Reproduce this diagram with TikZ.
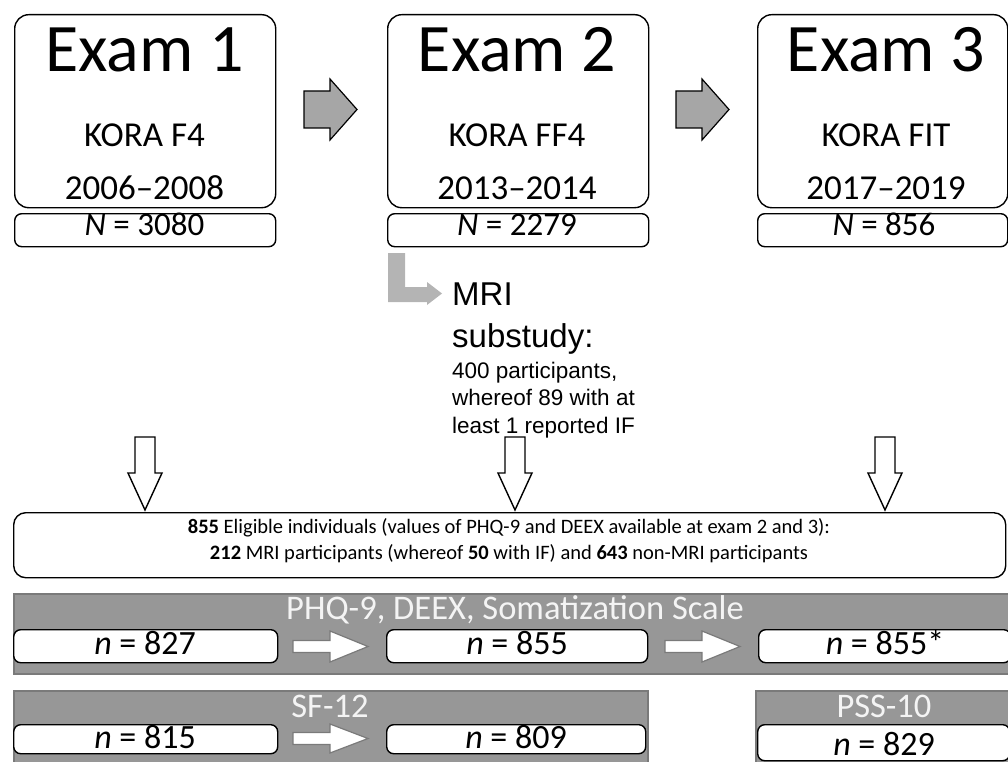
\documentclass[tikz,border=0pt]{standalone}
\usepackage{fontspec}
\setmainfont{Carlito}
\newfontfamily\arialf{Liberation Sans}
\definecolor{bandfill}{HTML}{979797}
\definecolor{bandedge}{HTML}{7A7A7A}
\definecolor{arrowgray}{HTML}{A6A6A6}
\definecolor{lgray}{HTML}{B4B4B4}
\definecolor{titlewhite}{HTML}{F4F4F4}
\begin{document}
\begin{tikzpicture}[x=1pt,y=-1pt,
  exambox/.style={draw=black, line width=1.4pt, rounded corners=14pt, inner sep=0pt, fill=white, anchor=north west},
  nbox/.style={draw=black, line width=1.4pt, rounded corners=7pt, inner sep=0pt, fill=white, anchor=north west},
  bandbox/.style={draw=bandedge, fill=bandfill, line width=1.5pt, inner sep=0pt, anchor=north west},
  bigtxt/.style={anchor=base, inner sep=0pt, font=\fontsize{68}{80}\selectfont},
  midtxt/.style={anchor=base, inner sep=0pt, font=\fontsize{35}{42}\selectfont},
  ntxt/.style={anchor=base, inner sep=0pt, font=\fontsize{33}{40}\selectfont},
  vtxt/.style={anchor=base, inner sep=0pt, font=\fontsize{34}{40}\selectfont},
  eltxt/.style={anchor=base, inner sep=0pt, font=\fontsize{20.5}{24}\selectfont},
  titletxt/.style={anchor=base, inner sep=0pt, text=titlewhite, font=\fontsize{34.5}{40}\selectfont},
  mribig/.style={anchor=base west, inner sep=0pt, font=\arialf\fontsize{33}{40}\selectfont},
  mrismall/.style={anchor=base west, inner sep=0pt, font=\arialf\fontsize{22.5}{27}\selectfont},
  grayarrow/.style={draw=black, fill=arrowgray, line width=1.2pt, line join=miter},
  downarrow/.style={draw=black, fill=white, line width=1.4pt, line join=miter},
  whitearrow/.style={draw=bandedge, fill=white, line width=1.2pt, line join=miter},
  larrow/.style={fill=lgray, draw=none}
]
\useasboundingbox (0,0) rectangle (1008,762);
\clip (0,0) rectangle (1008,762);

% exam boxes
\node[exambox, minimum width=261pt, minimum height=193pt] (e1) at (14,14) {};
\node[exambox, minimum width=261pt, minimum height=193pt] (e2) at (387,14) {};
\node[exambox, minimum width=250pt, minimum height=193pt] (e3) at (757,14) {};
\node[nbox, minimum width=261pt, minimum height=33pt] (n1) at (14,213) {};
\node[nbox, minimum width=261pt, minimum height=33pt] (n2) at (387,213) {};
\node[nbox, minimum width=250pt, minimum height=33pt] (n3) at (757,213) {};

\node[bigtxt] (e1t) at (144.5,72) {Exam 1};
\node[midtxt] (e1k) at (144.5,147) {KORA F4};
\node[midtxt] (e1y) at (144.5,199) {2006--2008};
\node[ntxt] (n1t) at (144.5,235) {\textit{N} = 3080};

\node[bigtxt] (e2t) at (517,72) {Exam 2};
\node[midtxt] (e2k) at (517,147) {KORA FF4};
\node[midtxt] (e2y) at (517,199) {2013--2014};
\node[ntxt] (n2t) at (517,235) {\textit{N} = 2279};

\node[bigtxt] (e3t) at (886,72) {Exam 3};
\node[midtxt] (e3k) at (886,147) {KORA FIT};
\node[midtxt] (e3y) at (886,199) {2017--2019};
\node[ntxt] (n3t) at (884,235) {\textit{N} = 856};

% gray block arrows between exams
\draw[grayarrow, shift={(304,109.5)}] (0,-18.5) -- (26,-18.5) -- (26,-30.5) -- (53,0) -- (26,30.5) -- (26,18.5) -- (0,18.5) -- cycle;
\draw[grayarrow, shift={(676,109.5)}] (0,-18.5) -- (26,-18.5) -- (26,-30.5) -- (53,0) -- (26,30.5) -- (26,18.5) -- (0,18.5) -- cycle;

% MRI L-arrow
\fill[larrow] (388,253) -- (405,253) -- (405,287) -- (427,287) -- (427,282) -- (442,293.5) -- (427,305) -- (427,302) -- (388,302) -- cycle;
\node[mribig] (mri1) at (452,305) {MRI};
\node[mribig] (mri2) at (452,347) {substudy:};
\node[mrismall] (mri3) at (452,378) {400 participants,};
\node[mrismall] (mri4) at (452,405.5) {whereof 89 with at};
\node[mrismall] (mri5) at (452,433) {least 1 reported IF};

% down arrows
\foreach \cx in {145,515,885}{
  \draw[downarrow, shift={(\cx,437)}] (-10,0) -- (10,0) -- (10,36) -- (17,36) -- (0,73) -- (-17,36) -- (-10,36) -- cycle;
}

% eligible box
\node[nbox, rounded corners=12pt, minimum width=992pt, minimum height=65pt] (el) at (13,512) {};
\node[eltxt] (el1) at (509,533) {\textbf{855} Eligible individuals (values of PHQ-9 and DEEX available at exam 2 and 3):};
\node[eltxt] (el2) at (509,559) {\textbf{212} MRI participants (whereof \textbf{50} with IF) and \textbf{643} non-MRI participants};

% band 1
\node[bandbox, minimum width=997pt, minimum height=80pt] (b1) at (13,593) {};
\node[titletxt] (b1t) at (515,619) {PHQ-9, DEEX, Somatization Scale};
\node[nbox, minimum width=264pt, minimum height=33pt] (p1) at (13,629) {};
\node[nbox, minimum width=261pt, minimum height=33pt] (p2) at (386,629) {};
\node[nbox, minimum width=252pt, minimum height=33pt] (p3) at (758,629) {};
\node[vtxt] (p1t) at (145,654) {\textit{n} = 827};
\node[vtxt] (p2t) at (517,654) {\textit{n} = 855};
\node[vtxt] (p3t) at (885,654) {\textit{n} = 855*};
\draw[whitearrow, shift={(293,646.5)}] (0,-6) -- (37,-6) -- (37,-15.5) -- (75,0) -- (37,15.5) -- (37,6) -- (0,6) -- cycle;
\draw[whitearrow, shift={(665,646.5)}] (0,-6) -- (37,-6) -- (37,-15.5) -- (75,0) -- (37,15.5) -- (37,6) -- (0,6) -- cycle;

% band 2
\node[bandbox, minimum width=634pt, minimum height=90pt] (b2) at (13,690) {};
\node[titletxt] (b2t) at (330,717) {SF-12};
\node[nbox, minimum width=264pt, minimum height=29pt] (q1) at (13,724) {};
\node[nbox, minimum width=259pt, minimum height=29pt] (q2) at (386,724) {};
\node[vtxt] (q1t) at (145,748) {\textit{n} = 815};
\node[vtxt] (q2t) at (516,748) {\textit{n} = 809};
\draw[whitearrow, shift={(293,738.5)}] (0,-6) -- (37,-6) -- (37,-14.5) -- (75,0) -- (37,14.5) -- (37,6) -- (0,6) -- cycle;

% band 3
\node[bandbox, minimum width=255pt, minimum height=90pt] (b3) at (755,690) {};
\node[titletxt] (b3t) at (884,717) {PSS-10};
\node[nbox, minimum width=252pt, minimum height=36pt] (r1) at (757,724) {};
\node[vtxt] (r1t) at (884,755) {\textit{n} = 829};
\end{tikzpicture}
\end{document}
